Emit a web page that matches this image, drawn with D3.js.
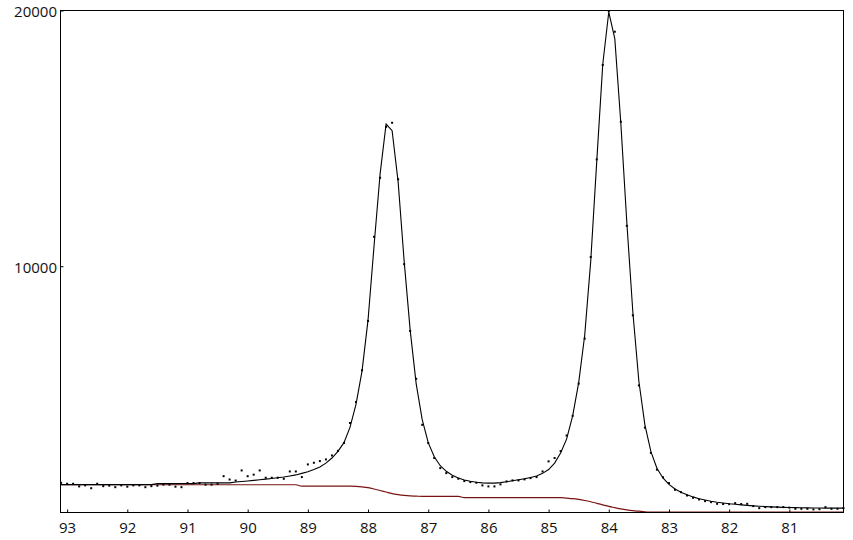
<!DOCTYPE html>
<html><head><meta charset="utf-8">
<script src="https://cdn.jsdelivr.net/npm/d3@7"></script>
<style>
html,body{margin:0;padding:0;background:#fff;}
svg{display:block;}
text{font-family:"Open Sans",sans-serif;font-size:15px;fill:#111;}
</style></head>
<body>
<svg id="chart" width="853" height="540"></svg>
<script>
// Binding energy grid (eV)
const bindingEnergy = [93.1,93.0,92.9,92.8,92.7,92.6,92.5,92.4,92.3,92.2,92.1,92.0,91.9,91.8,91.7,91.6,91.5,91.4,91.3,91.2,91.1,91.0,
90.9,90.8,90.7,90.6,90.5,90.4,90.3,90.2,90.1,90.0,89.9,89.8,89.7,89.6,89.5,89.4,89.3,89.2,89.1,89.0,
88.9,88.8,88.7,88.6,88.5,88.4,88.3,88.2,88.1,88.0,87.9,87.8,87.7,87.6,87.5,87.4,87.3,87.2,87.1,87.0,
86.9,86.8,86.7,86.6,86.5,86.4,86.3,86.2,86.1,86.0,85.9,85.8,85.7,85.6,85.5,85.4,85.3,85.2,85.1,85.0,
84.9,84.8,84.7,84.6,84.5,84.4,84.3,84.2,84.1,84.0,83.9,83.8,83.7,83.6,83.5,83.4,83.3,83.2,83.1,83.0,
82.9,82.8,82.7,82.6,82.5,82.4,82.3,82.2,82.1,82.0,81.9,81.8,81.7,81.6,81.5,81.4,81.3,81.2,81.1,81.0,
80.9,80.8,80.7,80.6,80.5,80.4,80.3,80.2,80.1];

// Measured counts (dots)
const measured = [1530,1495,1495,1390,1430,1320,1495,1400,1420,1360,1430,1380,1430,1430,1360,1400,1420,1460,1460,1380,1360,1520,
1520,1520,1460,1460,1495,1790,1660,1620,2015,1790,1850,2015,1730,1730,1730,1690,1975,1975,1755,2250,
2315,2380,2445,2600,2780,3090,3870,4690,5930,7860,11150,13460,15450,15610,13400,10080,7470,5600,3800,3085,
2500,2105,1910,1755,1690,1600,1560,1535,1430,1390,1390,1470,1585,1625,1625,1665,1715,1755,1975,2370,
2500,2770,3380,4150,5410,7170,10360,14180,17870,19980,19170,15650,11580,8080,5340,3690,2700,2045,1750,1520,
1260,1165,1035,945,880,815,775,710,700,695,735,700,710,620,540,580,580,580,580,560,
515,515,515,490,500,580,515,515,540];

// Fitted envelope (black line)
const fitted = [1460,1460,1460,1460,1460,1460,1460,1460,1460,1460,1460,1460,1460,1460,1460,1460,1500,1500,1500,1500,1500,1500,
1500,1530,1530,1530,1530,1530,1530,1560,1580,1600,1625,1650,1675,1700,1730,1760,1800,1840,1900,1960,
2050,2150,2300,2500,2760,3100,3700,4600,5900,7900,10800,13600,15560,15300,13300,10200,7500,5400,4000,3100,
2550,2200,1980,1830,1720,1640,1590,1550,1530,1520,1520,1540,1570,1610,1650,1690,1740,1800,1900,2050,
2300,2700,3250,4150,5450,7300,10200,14100,17900,19940,18900,15600,11700,8200,5500,3800,2750,2100,1720,1470,
1290,1160,1060,980,910,860,810,770,740,710,690,670,650,630,615,600,590,580,570,565,
560,555,550,548,545,543,541,540,540];

// Shirley background (dark red line)
const background = [1455,1455,1455,1455,1455,1455,1455,1455,1455,1455,1455,1455,1455,1455,1455,1455,1455,1455,1455,1455,1455,1455,
1455,1455,1455,1455,1455,1455,1455,1455,1455,1455,1455,1455,1455,1455,1455,1455,1455,1455,1400,1400,
1400,1400,1400,1400,1400,1400,1400,1390,1370,1340,1290,1230,1170,1110,1070,1040,1020,1010,1000,1000,
1000,1000,1000,1000,1000,950,950,950,950,950,950,950,950,950,950,950,950,950,950,950,
950,950,930,910,880,840,790,730,670,610,560,510,470,440,420,400,390,385,385,385,
385,385,385,385,385,385,385,385,385,385,385,385,385,385,385,385,385,385,385,385,
385,385,385,385,385,385,385,385,385];

const xTicks = [93,92,91,90,89,88,87,86,85,84,83,82,81];
const yTicks = [10000,20000];

const svg = d3.select("#chart");
const L = 60.5, R = 843.5, T = 10.5, B = 512.5;
const x = d3.scaleLinear().domain([93.11, 80.1]).range([L, R]);
const y = d3.scaleLinear().domain([370, 20000]).range([B, T]);

const rows = bindingEnergy.map((e, i) => ({e, m: measured[i], f: fitted[i], b: background[i]}));

// background line
svg.append("path").datum(rows)
  .attr("fill","none").attr("stroke","#7a1414").attr("stroke-width",1.2)
  .attr("d", d3.line().x(d => x(d.e)).y(d => y(d.b)).curve(d3.curveMonotoneX));

// fit line
svg.append("path").datum(rows)
  .attr("fill","none").attr("stroke","#000").attr("stroke-width",1.1)
  .attr("d", d3.line().x(d => x(d.e)).y(d => y(d.f)).curve(d3.curveLinear));

// measured dots
svg.append("g").selectAll("rect").data(rows).join("rect")
  .attr("x", d => x(d.e) - 1).attr("y", d => y(d.m) - 1)
  .attr("width", 2).attr("height", 2).attr("fill", "#000");

// axes
const xAxis = d3.axisBottom(x).tickValues(xTicks).tickFormat(d3.format("d"))
  .tickSizeInner(-3).tickSizeOuter(0).tickPadding(10);
const gx = svg.append("g").attr("transform", `translate(0,${B})`).call(xAxis);
gx.select(".domain").remove();
gx.selectAll("text").style("font-size","15px").style("font-family","'Open Sans',sans-serif").attr("fill","#111");

const yAxis = d3.axisLeft(y).tickValues(yTicks).tickFormat(d3.format("d"))
  .tickSizeInner(-3).tickSizeOuter(0).tickPadding(3.5);
const gy = svg.append("g").attr("transform", `translate(${L},0)`).call(yAxis);
gy.select(".domain").remove();
gy.selectAll("text").attr("dy","0.42em").style("font-size","15px").style("font-family","'Open Sans',sans-serif").attr("fill","#111");

// frame
svg.append("rect").attr("x", L).attr("y", T).attr("width", R - L).attr("height", B - T)
  .attr("fill","none").attr("stroke","#000").attr("stroke-width",1);
</script>
</body></html>
